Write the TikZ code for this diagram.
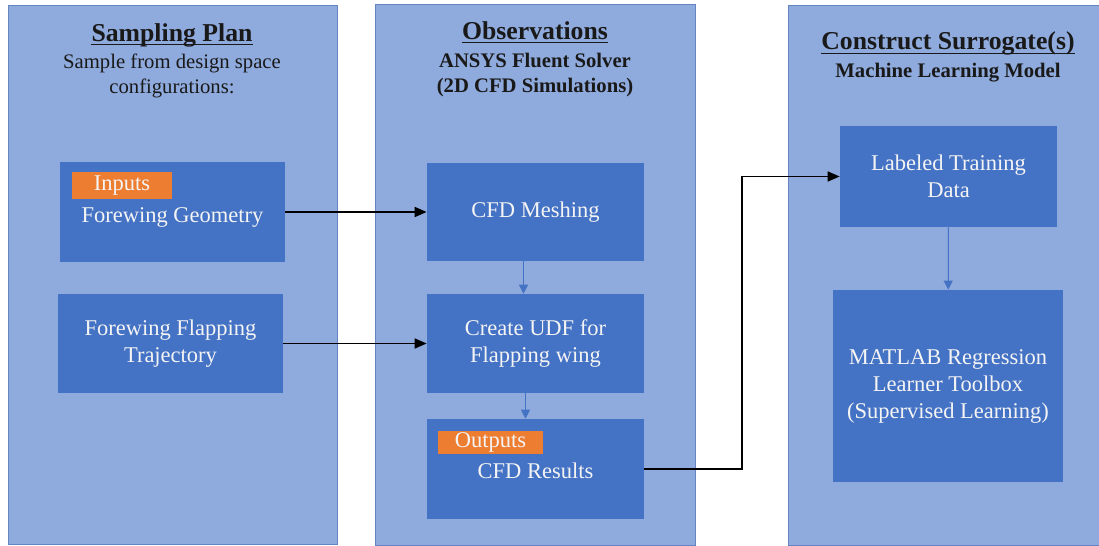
\documentclass[tikz,border=0pt]{standalone}
\usepackage{fontspec}
\setmainfont{Liberation Serif}
\usetikzlibrary{positioning,arrows.meta}

\definecolor{panelfill}{RGB}{143,170,220}
\definecolor{panelline}{RGB}{100,132,196}
\definecolor{stagefill}{RGB}{68,114,196}
\definecolor{tagfill}{RGB}{237,125,49}
\definecolor{stagetext}{RGB}{244,244,244}
\definecolor{headtext}{RGB}{25,25,25}

\begin{document}
\begin{tikzpicture}[x=0.025cm,y=-0.025cm,
  panel/.style={draw=panelline, line width=0.6pt, fill=panelfill, anchor=north west, inner sep=0pt},
  head/.style={anchor=base, inner sep=0pt, text=headtext, font=\fontsize{18.3}{22}\selectfont\bfseries},
  subhead/.style={anchor=base, inner sep=0pt, text=headtext, font=\fontsize{14.7}{17.8}\selectfont},
  stage/.style={fill=stagefill, text=stagetext, align=center, inner sep=0pt, font=\fontsize{16}{19.2}\selectfont},
  tag/.style={fill=tagfill, text=stagetext, inner sep=0pt, font=\fontsize{16}{19}\selectfont},
  feed/.style={draw=black, line width=1.35pt, -{Triangle[length=8.5pt,width=7pt]}},
  flow/.style={draw=stagefill, line width=0.7pt, -{Triangle[length=6.5pt,width=6.5pt]}}]
\useasboundingbox (0,0) rectangle (1099,546);
\clip (0,0) rectangle (1099,546);

% three stages of the workflow
\node[panel, minimum width=8.225cm, minimum height=13.475cm] (plan) at (8,5) {};
\node[panel, minimum width=8cm, minimum height=13.525cm] (obs) at (375,4) {};
\node[panel, minimum width=8.1cm, minimum height=13.5cm] (surr) at (788,5) {};

\node[head] (planhead) at (172,41) {Sampling Plan};
\node[subhead] (plansub) at (172,68) {Sample from design space};
\node[subhead] (plansubb) at (172,93) {configurations:};

\node[head] (obshead) at (535,39) {Observations};
\node[subhead, font=\fontsize{14.7}{17.8}\selectfont\bfseries] (obssub) at (535,67) {ANSYS Fluent Solver};
\node[subhead, font=\fontsize{14.7}{17.8}\selectfont\bfseries] (obssubb) at (535,92) {(2D CFD Simulations)};

\node[head] (surrhead) at (948,50) {Construct Surrogate(s)};
\node[subhead, font=\fontsize{14.7}{17.8}\selectfont\bfseries] (surrsub) at (948,77) {Machine Learning Model};

\foreach \h in {planhead,obshead,surrhead}
  \draw[headtext, line width=1.1pt] ([yshift=-2.6pt]\h.base west) -- ([yshift=-2.6pt]\h.base east);

% boxes
\node[stage, minimum width=5.625cm, minimum height=2.5cm, text height=18pt] (geom) at (172.5,212) {Forewing Geometry};
\node[tag, minimum width=2.5cm, minimum height=0.675cm, below right=0.25cm and 0.3cm of geom.north west] (inputs) {Inputs};
\node[stage, minimum width=5.625cm, minimum height=2.475cm] (traj) at (170.5,343.5) {Forewing Flapping\\Trajectory};

\node[stage, minimum width=5.425cm, minimum height=2.45cm] (mesh) at (535.5,212) {CFD Meshing};
\node[stage, minimum width=5.425cm, minimum height=2.475cm] (udf) at (535.5,343.5) {Create UDF for\\Flapping wing};
\node[stage, minimum width=5.425cm, minimum height=2.5cm, text height=14pt] (results) at (535.5,469) {CFD Results};
\node[tag, minimum width=2.625cm, minimum height=0.575cm, below right=0.3cm and 0.275cm of results.north west] (outputs) {Outputs};

\node[stage, minimum width=5.425cm, minimum height=2.525cm] (labeled) at (948.5,176.5) {Labeled Training\\Data};
\node[stage, minimum width=5.75cm, minimum height=4.8cm] (matlab) at (948,386) {MATLAB Regression\\Learner Toolbox\\(Supervised Learning)};

% connectors
\coordinate (elbow) at (742,0);
\draw[feed] (geom) -- (mesh);
\draw[feed] (traj) -- (udf);
\draw[feed] (results.east) -- (results.east -| elbow) -- (elbow |- labeled.west) -- (labeled.west);

\draw[flow] ([xshift=-0.3cm]mesh.south) -- ([xshift=-0.3cm]udf.north);
\draw[flow] ([xshift=-0.25cm]udf.south) -- ([xshift=-0.25cm]results.north);
\draw[flow] (labeled) -- (matlab);
\end{tikzpicture}
\end{document}
